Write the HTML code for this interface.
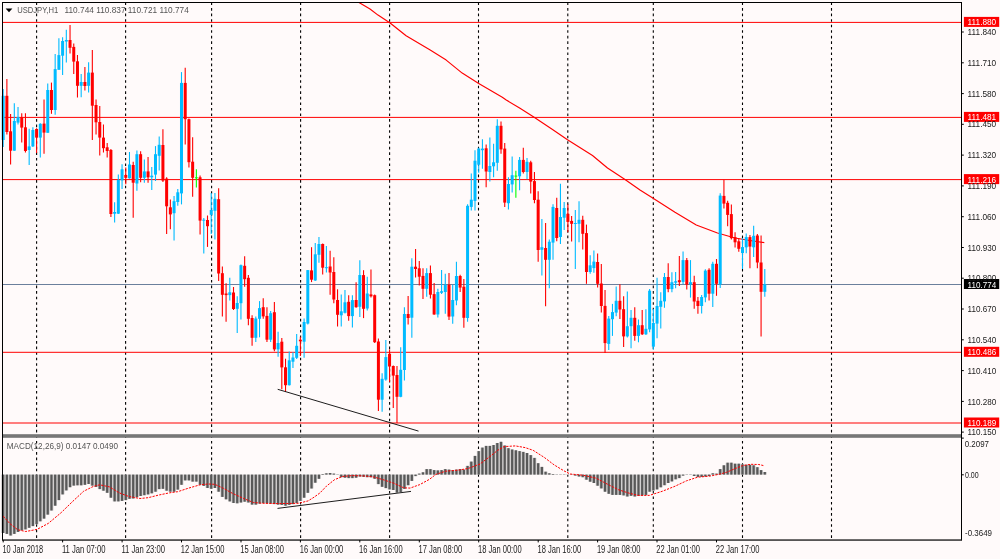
<!DOCTYPE html><html><head><meta charset="utf-8"><style>html,body{margin:0;padding:0;background:#fffafa}</style></head><body><svg width="1000" height="559" viewBox="0 0 1000 559" style="display:block;font-family:'Liberation Sans',sans-serif">
<rect width="1000" height="559" fill="#fffafa"/>
<line x1="36.6" y1="2.5" x2="36.6" y2="539.5" stroke="#000" stroke-width="1.1" stroke-dasharray="2.6 2.95"/>
<line x1="125.6" y1="2.5" x2="125.6" y2="539.5" stroke="#000" stroke-width="1.1" stroke-dasharray="2.6 2.95"/>
<line x1="211.6" y1="2.5" x2="211.6" y2="539.5" stroke="#000" stroke-width="1.1" stroke-dasharray="2.6 2.95"/>
<line x1="300.6" y1="2.5" x2="300.6" y2="539.5" stroke="#000" stroke-width="1.1" stroke-dasharray="2.6 2.95"/>
<line x1="389.6" y1="2.5" x2="389.6" y2="539.5" stroke="#000" stroke-width="1.1" stroke-dasharray="2.6 2.95"/>
<line x1="478.5" y1="2.5" x2="478.5" y2="539.5" stroke="#000" stroke-width="1.1" stroke-dasharray="2.6 2.95"/>
<line x1="567.8" y1="2.5" x2="567.8" y2="539.5" stroke="#000" stroke-width="1.1" stroke-dasharray="2.6 2.95"/>
<line x1="653.3" y1="2.5" x2="653.3" y2="539.5" stroke="#000" stroke-width="1.1" stroke-dasharray="2.6 2.95"/>
<line x1="742.5" y1="2.5" x2="742.5" y2="539.5" stroke="#000" stroke-width="1.1" stroke-dasharray="2.6 2.95"/>
<line x1="831.5" y1="2.5" x2="831.5" y2="539.5" stroke="#000" stroke-width="1.1" stroke-dasharray="2.6 2.95"/>
<line x1="2.5" y1="22.4" x2="961" y2="22.4" stroke="#ff0000" stroke-width="1"/>
<line x1="2.5" y1="117.4" x2="961" y2="117.4" stroke="#ff0000" stroke-width="1"/>
<line x1="2.5" y1="179.6" x2="961" y2="179.6" stroke="#ff0000" stroke-width="1"/>
<line x1="2.5" y1="352.3" x2="961" y2="352.3" stroke="#ff0000" stroke-width="1"/>
<line x1="2.5" y1="423.0" x2="961" y2="423.0" stroke="#ff0000" stroke-width="1"/>
<line x1="2.5" y1="284.5" x2="961" y2="284.5" stroke="#6b7f9c" stroke-width="1"/>
<g fill="#c6c4c4"><rect x="1.30" y="474.6" width="3.72" height="58.4"/><rect x="5.02" y="474.6" width="3.72" height="59.3"/><rect x="8.73" y="474.6" width="3.72" height="60.9"/><rect x="12.45" y="474.6" width="3.72" height="59.3"/><rect x="16.16" y="474.6" width="3.72" height="57.3"/><rect x="19.88" y="474.6" width="3.72" height="55.7"/><rect x="23.59" y="474.6" width="3.72" height="54.8"/><rect x="27.31" y="474.6" width="3.72" height="53.2"/><rect x="31.02" y="474.6" width="3.72" height="51.5"/><rect x="34.74" y="474.6" width="3.72" height="49.6"/><rect x="38.46" y="474.6" width="3.72" height="46.7"/><rect x="42.17" y="474.6" width="3.72" height="44.0"/><rect x="45.89" y="474.6" width="3.72" height="40.0"/><rect x="49.60" y="474.6" width="3.72" height="35.9"/><rect x="53.32" y="474.6" width="3.72" height="31.1"/><rect x="57.03" y="474.6" width="3.72" height="25.5"/><rect x="60.75" y="474.6" width="3.72" height="19.8"/><rect x="64.46" y="474.6" width="3.72" height="15.8"/><rect x="68.18" y="474.6" width="3.72" height="12.6"/><rect x="71.89" y="474.6" width="3.72" height="11.0"/><rect x="75.61" y="474.6" width="3.72" height="10.7"/><rect x="79.32" y="474.6" width="3.72" height="10.7"/><rect x="83.04" y="474.6" width="3.72" height="10.2"/><rect x="86.75" y="474.6" width="3.72" height="9.4"/><rect x="90.47" y="474.6" width="3.72" height="11.0"/><rect x="94.18" y="474.6" width="3.72" height="12.3"/><rect x="97.90" y="474.6" width="3.72" height="14.5"/><rect x="101.62" y="474.6" width="3.72" height="16.1"/><rect x="105.33" y="474.6" width="3.72" height="18.2"/><rect x="109.05" y="474.6" width="3.72" height="23.1"/><rect x="112.76" y="474.6" width="3.72" height="26.8"/><rect x="116.48" y="474.6" width="3.72" height="26.8"/><rect x="120.19" y="474.6" width="3.72" height="26.3"/><rect x="123.91" y="474.6" width="3.72" height="25.5"/><rect x="127.62" y="474.6" width="3.72" height="24.2"/><rect x="131.34" y="474.6" width="3.72" height="23.9"/><rect x="135.05" y="474.6" width="3.72" height="22.6"/><rect x="138.77" y="474.6" width="3.72" height="21.4"/><rect x="142.48" y="474.6" width="3.72" height="20.6"/><rect x="146.20" y="474.6" width="3.72" height="19.8"/><rect x="149.91" y="474.6" width="3.72" height="18.7"/><rect x="153.63" y="474.6" width="3.72" height="17.1"/><rect x="157.34" y="474.6" width="3.72" height="14.5"/><rect x="161.06" y="474.6" width="3.72" height="14.2"/><rect x="164.78" y="474.6" width="3.72" height="16.1"/><rect x="168.49" y="474.6" width="3.72" height="17.1"/><rect x="172.21" y="474.6" width="3.72" height="17.1"/><rect x="175.92" y="474.6" width="3.72" height="15.0"/><rect x="179.64" y="474.6" width="3.72" height="10.2"/><rect x="183.35" y="474.6" width="3.72" height="5.8"/><rect x="187.07" y="474.6" width="3.72" height="5.8"/><rect x="190.78" y="474.6" width="3.72" height="7.0"/><rect x="194.50" y="474.6" width="3.72" height="7.0"/><rect x="198.21" y="474.6" width="3.72" height="10.2"/><rect x="201.93" y="474.6" width="3.72" height="11.3"/><rect x="205.64" y="474.6" width="3.72" height="13.4"/><rect x="209.36" y="474.6" width="3.72" height="14.2"/><rect x="213.07" y="474.6" width="3.72" height="13.4"/><rect x="216.79" y="474.6" width="3.72" height="17.1"/><rect x="220.51" y="474.6" width="3.72" height="22.3"/><rect x="224.22" y="474.6" width="3.72" height="24.7"/><rect x="227.94" y="474.6" width="3.72" height="26.8"/><rect x="231.65" y="474.6" width="3.72" height="28.4"/><rect x="235.37" y="474.6" width="3.72" height="28.7"/><rect x="239.08" y="474.6" width="3.72" height="27.9"/><rect x="242.80" y="474.6" width="3.72" height="27.1"/><rect x="246.51" y="474.6" width="3.72" height="27.9"/><rect x="250.23" y="474.6" width="3.72" height="30.0"/><rect x="253.94" y="474.6" width="3.72" height="30.0"/><rect x="257.66" y="474.6" width="3.72" height="29.0"/><rect x="261.37" y="474.6" width="3.72" height="28.4"/><rect x="265.09" y="474.6" width="3.72" height="28.7"/><rect x="268.80" y="474.6" width="3.72" height="29.0"/><rect x="272.52" y="474.6" width="3.72" height="29.5"/><rect x="276.23" y="474.6" width="3.72" height="30.0"/><rect x="279.95" y="474.6" width="3.72" height="30.3"/><rect x="283.67" y="474.6" width="3.72" height="31.1"/><rect x="287.38" y="474.6" width="3.72" height="30.3"/><rect x="291.10" y="474.6" width="3.72" height="29.5"/><rect x="294.81" y="474.6" width="3.72" height="28.4"/><rect x="298.53" y="474.6" width="3.72" height="26.3"/><rect x="302.24" y="474.6" width="3.72" height="23.1"/><rect x="305.96" y="474.6" width="3.72" height="18.2"/><rect x="309.67" y="474.6" width="3.72" height="13.9"/><rect x="313.39" y="474.6" width="3.72" height="8.1"/><rect x="317.10" y="474.6" width="3.72" height="4.2"/><rect x="320.82" y="474.0" width="3.72" height="0.6"/><rect x="324.53" y="473.3" width="3.72" height="1.3"/><rect x="328.25" y="473.0" width="3.72" height="1.6"/><rect x="331.96" y="473.6" width="3.72" height="1.0"/><rect x="336.24" y="474.0" width="2.6" height="1"/><rect x="339.39" y="474.6" width="3.72" height="2.6"/><rect x="343.11" y="474.6" width="3.72" height="3.1"/><rect x="346.83" y="474.6" width="3.72" height="3.5"/><rect x="350.54" y="474.6" width="3.72" height="3.5"/><rect x="354.26" y="474.6" width="3.72" height="3.1"/><rect x="357.97" y="474.6" width="3.72" height="1.9"/><rect x="361.69" y="474.6" width="3.72" height="2.3"/><rect x="365.40" y="474.6" width="3.72" height="2.6"/><rect x="369.12" y="474.6" width="3.72" height="2.6"/><rect x="372.83" y="474.6" width="3.72" height="4.2"/><rect x="376.55" y="474.6" width="3.72" height="9.5"/><rect x="380.26" y="474.6" width="3.72" height="12.2"/><rect x="383.98" y="474.6" width="3.72" height="13.5"/><rect x="387.69" y="474.6" width="3.72" height="14.8"/><rect x="391.41" y="474.6" width="3.72" height="15.4"/><rect x="395.12" y="474.6" width="3.72" height="18.0"/><rect x="398.84" y="474.6" width="3.72" height="17.5"/><rect x="402.55" y="474.6" width="3.72" height="14.3"/><rect x="406.27" y="474.6" width="3.72" height="10.6"/><rect x="409.99" y="474.6" width="3.72" height="6.3"/><rect x="413.70" y="474.6" width="3.72" height="1.5"/><rect x="417.42" y="473.6" width="3.72" height="1.0"/><rect x="421.13" y="472.3" width="3.72" height="2.3"/><rect x="424.85" y="469.1" width="3.72" height="5.5"/><rect x="428.56" y="469.1" width="3.72" height="5.5"/><rect x="432.28" y="470.1" width="3.72" height="4.5"/><rect x="435.99" y="470.4" width="3.72" height="4.2"/><rect x="439.71" y="470.1" width="3.72" height="4.5"/><rect x="443.42" y="469.1" width="3.72" height="5.5"/><rect x="447.14" y="469.6" width="3.72" height="5.0"/><rect x="450.85" y="470.1" width="3.72" height="4.5"/><rect x="454.57" y="469.6" width="3.72" height="5.0"/><rect x="458.28" y="469.1" width="3.72" height="5.5"/><rect x="462.00" y="469.6" width="3.72" height="5.0"/><rect x="465.71" y="465.9" width="3.72" height="8.7"/><rect x="469.43" y="461.6" width="3.72" height="13.0"/><rect x="473.15" y="455.9" width="3.72" height="18.7"/><rect x="476.86" y="451.1" width="3.72" height="23.5"/><rect x="480.58" y="447.6" width="3.72" height="27.0"/><rect x="484.29" y="445.9" width="3.72" height="28.7"/><rect x="488.01" y="445.9" width="3.72" height="28.7"/><rect x="491.72" y="445.0" width="3.72" height="29.6"/><rect x="495.44" y="443.0" width="3.72" height="31.6"/><rect x="499.15" y="441.8" width="3.72" height="32.8"/><rect x="502.87" y="445.5" width="3.72" height="29.1"/><rect x="506.58" y="448.2" width="3.72" height="26.4"/><rect x="510.30" y="449.5" width="3.72" height="25.1"/><rect x="514.01" y="450.3" width="3.72" height="24.3"/><rect x="517.73" y="451.1" width="3.72" height="23.5"/><rect x="521.44" y="451.9" width="3.72" height="22.7"/><rect x="525.16" y="453.0" width="3.72" height="21.6"/><rect x="528.87" y="455.1" width="3.72" height="19.5"/><rect x="532.59" y="457.9" width="3.72" height="16.7"/><rect x="536.31" y="463.2" width="3.72" height="11.4"/><rect x="540.02" y="466.9" width="3.72" height="7.7"/><rect x="543.74" y="471.7" width="3.72" height="2.9"/><rect x="547.45" y="473.3" width="3.72" height="1.3"/><rect x="551.17" y="474.0" width="3.72" height="0.6"/><rect x="555.44" y="474.0" width="2.6" height="1"/><rect x="559.15" y="474.0" width="2.6" height="1"/><rect x="562.87" y="474.0" width="2.6" height="1"/><rect x="566.59" y="474.0" width="2.6" height="1"/><rect x="570.30" y="474.0" width="2.6" height="1"/><rect x="573.46" y="474.6" width="3.72" height="1.0"/><rect x="577.17" y="474.6" width="3.72" height="1.9"/><rect x="580.89" y="474.6" width="3.72" height="2.6"/><rect x="584.60" y="474.6" width="3.72" height="5.1"/><rect x="588.32" y="474.6" width="3.72" height="7.1"/><rect x="592.04" y="474.6" width="3.72" height="8.4"/><rect x="595.75" y="474.6" width="3.72" height="11.1"/><rect x="599.47" y="474.6" width="3.72" height="13.8"/><rect x="603.18" y="474.6" width="3.72" height="17.1"/><rect x="606.90" y="474.6" width="3.72" height="19.2"/><rect x="610.61" y="474.6" width="3.72" height="20.3"/><rect x="614.33" y="474.6" width="3.72" height="20.3"/><rect x="618.04" y="474.6" width="3.72" height="20.3"/><rect x="621.76" y="474.6" width="3.72" height="20.8"/><rect x="625.47" y="474.6" width="3.72" height="21.9"/><rect x="629.19" y="474.6" width="3.72" height="21.2"/><rect x="632.90" y="474.6" width="3.72" height="21.9"/><rect x="636.62" y="474.6" width="3.72" height="21.2"/><rect x="640.33" y="474.6" width="3.72" height="20.8"/><rect x="644.05" y="474.6" width="3.72" height="20.3"/><rect x="647.76" y="474.6" width="3.72" height="17.1"/><rect x="651.48" y="474.6" width="3.72" height="15.9"/><rect x="655.20" y="474.6" width="3.72" height="14.8"/><rect x="658.91" y="474.6" width="3.72" height="12.7"/><rect x="662.63" y="474.6" width="3.72" height="10.6"/><rect x="666.34" y="474.6" width="3.72" height="8.4"/><rect x="670.06" y="474.6" width="3.72" height="6.8"/><rect x="673.77" y="474.6" width="3.72" height="4.7"/><rect x="677.49" y="474.6" width="3.72" height="3.5"/><rect x="681.20" y="474.6" width="3.72" height="1.0"/><rect x="685.48" y="474.0" width="2.6" height="1"/><rect x="689.19" y="474.0" width="2.6" height="1"/><rect x="692.35" y="474.6" width="3.72" height="1.4"/><rect x="696.06" y="474.6" width="3.72" height="2.3"/><rect x="699.78" y="474.6" width="3.72" height="2.3"/><rect x="703.49" y="474.6" width="3.72" height="1.9"/><rect x="707.21" y="474.6" width="3.72" height="1.4"/><rect x="710.92" y="473.3" width="3.72" height="1.3"/><rect x="714.64" y="473.6" width="3.72" height="1.0"/><rect x="718.36" y="469.1" width="3.72" height="5.5"/><rect x="722.07" y="465.3" width="3.72" height="9.3"/><rect x="725.79" y="462.7" width="3.72" height="11.9"/><rect x="729.50" y="462.7" width="3.72" height="11.9"/><rect x="733.22" y="463.7" width="3.72" height="10.9"/><rect x="736.93" y="463.7" width="3.72" height="10.9"/><rect x="740.65" y="464.3" width="3.72" height="10.3"/><rect x="744.36" y="464.8" width="3.72" height="9.8"/><rect x="748.08" y="464.8" width="3.72" height="9.8"/><rect x="751.79" y="465.3" width="3.72" height="9.3"/><rect x="755.51" y="467.2" width="3.72" height="7.4"/><rect x="759.22" y="470.1" width="3.72" height="4.5"/><rect x="762.94" y="472.0" width="3.72" height="2.6"/></g>
<g fill="#585858"><rect x="2.06" y="474.6" width="2.2" height="58.4"/><rect x="5.78" y="474.6" width="2.2" height="59.3"/><rect x="9.49" y="474.6" width="2.2" height="60.9"/><rect x="13.21" y="474.6" width="2.2" height="59.3"/><rect x="16.92" y="474.6" width="2.2" height="57.3"/><rect x="20.64" y="474.6" width="2.2" height="55.7"/><rect x="24.35" y="474.6" width="2.2" height="54.8"/><rect x="28.07" y="474.6" width="2.2" height="53.2"/><rect x="31.78" y="474.6" width="2.2" height="51.5"/><rect x="35.50" y="474.6" width="2.2" height="49.6"/><rect x="39.21" y="474.6" width="2.2" height="46.7"/><rect x="42.93" y="474.6" width="2.2" height="44.0"/><rect x="46.64" y="474.6" width="2.2" height="40.0"/><rect x="50.36" y="474.6" width="2.2" height="35.9"/><rect x="54.07" y="474.6" width="2.2" height="31.1"/><rect x="57.79" y="474.6" width="2.2" height="25.5"/><rect x="61.50" y="474.6" width="2.2" height="19.8"/><rect x="65.22" y="474.6" width="2.2" height="15.8"/><rect x="68.94" y="474.6" width="2.2" height="12.6"/><rect x="72.65" y="474.6" width="2.2" height="11.0"/><rect x="76.37" y="474.6" width="2.2" height="10.7"/><rect x="80.08" y="474.6" width="2.2" height="10.7"/><rect x="83.80" y="474.6" width="2.2" height="10.2"/><rect x="87.51" y="474.6" width="2.2" height="9.4"/><rect x="91.23" y="474.6" width="2.2" height="11.0"/><rect x="94.94" y="474.6" width="2.2" height="12.3"/><rect x="98.66" y="474.6" width="2.2" height="14.5"/><rect x="102.37" y="474.6" width="2.2" height="16.1"/><rect x="106.09" y="474.6" width="2.2" height="18.2"/><rect x="109.80" y="474.6" width="2.2" height="23.1"/><rect x="113.52" y="474.6" width="2.2" height="26.8"/><rect x="117.23" y="474.6" width="2.2" height="26.8"/><rect x="120.95" y="474.6" width="2.2" height="26.3"/><rect x="124.66" y="474.6" width="2.2" height="25.5"/><rect x="128.38" y="474.6" width="2.2" height="24.2"/><rect x="132.10" y="474.6" width="2.2" height="23.9"/><rect x="135.81" y="474.6" width="2.2" height="22.6"/><rect x="139.53" y="474.6" width="2.2" height="21.4"/><rect x="143.24" y="474.6" width="2.2" height="20.6"/><rect x="146.96" y="474.6" width="2.2" height="19.8"/><rect x="150.67" y="474.6" width="2.2" height="18.7"/><rect x="154.39" y="474.6" width="2.2" height="17.1"/><rect x="158.10" y="474.6" width="2.2" height="14.5"/><rect x="161.82" y="474.6" width="2.2" height="14.2"/><rect x="165.53" y="474.6" width="2.2" height="16.1"/><rect x="169.25" y="474.6" width="2.2" height="17.1"/><rect x="172.96" y="474.6" width="2.2" height="17.1"/><rect x="176.68" y="474.6" width="2.2" height="15.0"/><rect x="180.39" y="474.6" width="2.2" height="10.2"/><rect x="184.11" y="474.6" width="2.2" height="5.8"/><rect x="187.83" y="474.6" width="2.2" height="5.8"/><rect x="191.54" y="474.6" width="2.2" height="7.0"/><rect x="195.26" y="474.6" width="2.2" height="7.0"/><rect x="198.97" y="474.6" width="2.2" height="10.2"/><rect x="202.69" y="474.6" width="2.2" height="11.3"/><rect x="206.40" y="474.6" width="2.2" height="13.4"/><rect x="210.12" y="474.6" width="2.2" height="14.2"/><rect x="213.83" y="474.6" width="2.2" height="13.4"/><rect x="217.55" y="474.6" width="2.2" height="17.1"/><rect x="221.26" y="474.6" width="2.2" height="22.3"/><rect x="224.98" y="474.6" width="2.2" height="24.7"/><rect x="228.69" y="474.6" width="2.2" height="26.8"/><rect x="232.41" y="474.6" width="2.2" height="28.4"/><rect x="236.12" y="474.6" width="2.2" height="28.7"/><rect x="239.84" y="474.6" width="2.2" height="27.9"/><rect x="243.55" y="474.6" width="2.2" height="27.1"/><rect x="247.27" y="474.6" width="2.2" height="27.9"/><rect x="250.99" y="474.6" width="2.2" height="30.0"/><rect x="254.70" y="474.6" width="2.2" height="30.0"/><rect x="258.42" y="474.6" width="2.2" height="29.0"/><rect x="262.13" y="474.6" width="2.2" height="28.4"/><rect x="265.85" y="474.6" width="2.2" height="28.7"/><rect x="269.56" y="474.6" width="2.2" height="29.0"/><rect x="273.28" y="474.6" width="2.2" height="29.5"/><rect x="276.99" y="474.6" width="2.2" height="30.0"/><rect x="280.71" y="474.6" width="2.2" height="30.3"/><rect x="284.42" y="474.6" width="2.2" height="31.1"/><rect x="288.14" y="474.6" width="2.2" height="30.3"/><rect x="291.85" y="474.6" width="2.2" height="29.5"/><rect x="295.57" y="474.6" width="2.2" height="28.4"/><rect x="299.28" y="474.6" width="2.2" height="26.3"/><rect x="303.00" y="474.6" width="2.2" height="23.1"/><rect x="306.71" y="474.6" width="2.2" height="18.2"/><rect x="310.43" y="474.6" width="2.2" height="13.9"/><rect x="314.15" y="474.6" width="2.2" height="8.1"/><rect x="317.86" y="474.6" width="2.2" height="4.2"/><rect x="321.58" y="474.0" width="2.2" height="0.6"/><rect x="325.29" y="473.3" width="2.2" height="1.3"/><rect x="329.01" y="473.0" width="2.2" height="1.6"/><rect x="332.72" y="473.6" width="2.2" height="1.0"/><rect x="340.15" y="474.6" width="2.2" height="2.6"/><rect x="343.87" y="474.6" width="2.2" height="3.1"/><rect x="347.58" y="474.6" width="2.2" height="3.5"/><rect x="351.30" y="474.6" width="2.2" height="3.5"/><rect x="355.01" y="474.6" width="2.2" height="3.1"/><rect x="358.73" y="474.6" width="2.2" height="1.9"/><rect x="362.44" y="474.6" width="2.2" height="2.3"/><rect x="366.16" y="474.6" width="2.2" height="2.6"/><rect x="369.87" y="474.6" width="2.2" height="2.6"/><rect x="373.59" y="474.6" width="2.2" height="4.2"/><rect x="377.31" y="474.6" width="2.2" height="9.5"/><rect x="381.02" y="474.6" width="2.2" height="12.2"/><rect x="384.74" y="474.6" width="2.2" height="13.5"/><rect x="388.45" y="474.6" width="2.2" height="14.8"/><rect x="392.17" y="474.6" width="2.2" height="15.4"/><rect x="395.88" y="474.6" width="2.2" height="18.0"/><rect x="399.60" y="474.6" width="2.2" height="17.5"/><rect x="403.31" y="474.6" width="2.2" height="14.3"/><rect x="407.03" y="474.6" width="2.2" height="10.6"/><rect x="410.74" y="474.6" width="2.2" height="6.3"/><rect x="414.46" y="474.6" width="2.2" height="1.5"/><rect x="418.17" y="473.6" width="2.2" height="1.0"/><rect x="421.89" y="472.3" width="2.2" height="2.3"/><rect x="425.60" y="469.1" width="2.2" height="5.5"/><rect x="429.32" y="469.1" width="2.2" height="5.5"/><rect x="433.03" y="470.1" width="2.2" height="4.5"/><rect x="436.75" y="470.4" width="2.2" height="4.2"/><rect x="440.47" y="470.1" width="2.2" height="4.5"/><rect x="444.18" y="469.1" width="2.2" height="5.5"/><rect x="447.90" y="469.6" width="2.2" height="5.0"/><rect x="451.61" y="470.1" width="2.2" height="4.5"/><rect x="455.33" y="469.6" width="2.2" height="5.0"/><rect x="459.04" y="469.1" width="2.2" height="5.5"/><rect x="462.76" y="469.6" width="2.2" height="5.0"/><rect x="466.47" y="465.9" width="2.2" height="8.7"/><rect x="470.19" y="461.6" width="2.2" height="13.0"/><rect x="473.90" y="455.9" width="2.2" height="18.7"/><rect x="477.62" y="451.1" width="2.2" height="23.5"/><rect x="481.33" y="447.6" width="2.2" height="27.0"/><rect x="485.05" y="445.9" width="2.2" height="28.7"/><rect x="488.76" y="445.9" width="2.2" height="28.7"/><rect x="492.48" y="445.0" width="2.2" height="29.6"/><rect x="496.19" y="443.0" width="2.2" height="31.6"/><rect x="499.91" y="441.8" width="2.2" height="32.8"/><rect x="503.63" y="445.5" width="2.2" height="29.1"/><rect x="507.34" y="448.2" width="2.2" height="26.4"/><rect x="511.06" y="449.5" width="2.2" height="25.1"/><rect x="514.77" y="450.3" width="2.2" height="24.3"/><rect x="518.49" y="451.1" width="2.2" height="23.5"/><rect x="522.20" y="451.9" width="2.2" height="22.7"/><rect x="525.92" y="453.0" width="2.2" height="21.6"/><rect x="529.63" y="455.1" width="2.2" height="19.5"/><rect x="533.35" y="457.9" width="2.2" height="16.7"/><rect x="537.06" y="463.2" width="2.2" height="11.4"/><rect x="540.78" y="466.9" width="2.2" height="7.7"/><rect x="544.49" y="471.7" width="2.2" height="2.9"/><rect x="548.21" y="473.3" width="2.2" height="1.3"/><rect x="551.92" y="474.0" width="2.2" height="0.6"/><rect x="574.22" y="474.6" width="2.2" height="1.0"/><rect x="577.93" y="474.6" width="2.2" height="1.9"/><rect x="581.65" y="474.6" width="2.2" height="2.6"/><rect x="585.36" y="474.6" width="2.2" height="5.1"/><rect x="589.08" y="474.6" width="2.2" height="7.1"/><rect x="592.79" y="474.6" width="2.2" height="8.4"/><rect x="596.51" y="474.6" width="2.2" height="11.1"/><rect x="600.22" y="474.6" width="2.2" height="13.8"/><rect x="603.94" y="474.6" width="2.2" height="17.1"/><rect x="607.65" y="474.6" width="2.2" height="19.2"/><rect x="611.37" y="474.6" width="2.2" height="20.3"/><rect x="615.08" y="474.6" width="2.2" height="20.3"/><rect x="618.80" y="474.6" width="2.2" height="20.3"/><rect x="622.52" y="474.6" width="2.2" height="20.8"/><rect x="626.23" y="474.6" width="2.2" height="21.9"/><rect x="629.95" y="474.6" width="2.2" height="21.2"/><rect x="633.66" y="474.6" width="2.2" height="21.9"/><rect x="637.38" y="474.6" width="2.2" height="21.2"/><rect x="641.09" y="474.6" width="2.2" height="20.8"/><rect x="644.81" y="474.6" width="2.2" height="20.3"/><rect x="648.52" y="474.6" width="2.2" height="17.1"/><rect x="652.24" y="474.6" width="2.2" height="15.9"/><rect x="655.95" y="474.6" width="2.2" height="14.8"/><rect x="659.67" y="474.6" width="2.2" height="12.7"/><rect x="663.38" y="474.6" width="2.2" height="10.6"/><rect x="667.10" y="474.6" width="2.2" height="8.4"/><rect x="670.81" y="474.6" width="2.2" height="6.8"/><rect x="674.53" y="474.6" width="2.2" height="4.7"/><rect x="678.24" y="474.6" width="2.2" height="3.5"/><rect x="681.96" y="474.6" width="2.2" height="1.0"/><rect x="693.11" y="474.6" width="2.2" height="1.4"/><rect x="696.82" y="474.6" width="2.2" height="2.3"/><rect x="700.54" y="474.6" width="2.2" height="2.3"/><rect x="704.25" y="474.6" width="2.2" height="1.9"/><rect x="707.97" y="474.6" width="2.2" height="1.4"/><rect x="711.68" y="473.3" width="2.2" height="1.3"/><rect x="715.40" y="473.6" width="2.2" height="1.0"/><rect x="719.11" y="469.1" width="2.2" height="5.5"/><rect x="722.83" y="465.3" width="2.2" height="9.3"/><rect x="726.54" y="462.7" width="2.2" height="11.9"/><rect x="730.26" y="462.7" width="2.2" height="11.9"/><rect x="733.97" y="463.7" width="2.2" height="10.9"/><rect x="737.69" y="463.7" width="2.2" height="10.9"/><rect x="741.40" y="464.3" width="2.2" height="10.3"/><rect x="745.12" y="464.8" width="2.2" height="9.8"/><rect x="748.84" y="464.8" width="2.2" height="9.8"/><rect x="752.55" y="465.3" width="2.2" height="9.3"/><rect x="756.27" y="467.2" width="2.2" height="7.4"/><rect x="759.98" y="470.1" width="2.2" height="4.5"/><rect x="763.70" y="472.0" width="2.2" height="2.6"/></g>
<polyline fill="none" stroke="#ff0000" stroke-width="1" stroke-dasharray="2.2 1.2" points="3.2,516.2 9.7,523.4 17.7,529.8 25.8,531.5 37,529.4 48.3,523.4 61.2,512.6 72.4,501.7 83.7,491.2 93.4,486.4 99.8,484.8 109.5,486.9 119.1,492.8 128.8,496.5 140,498.5 148.1,497.7 159.4,494.9 169.7,492.8 177.7,491.7 189,488 200.2,484.8 208.3,484 214.7,484.3 222.8,488 232.4,493.3 243.7,498.5 253.4,502.5 263,503.3 279.1,503.6 298.4,503.3 308.1,500.9 314.5,496.9 320,492.9 326.4,486.2 334.5,479.7 342.5,476.5 352.2,475.6 365.1,476 374.7,477.2 384.4,480.1 394,483.3 403.7,487.8 410.1,488.1 419.8,484.6 429.5,479.3 435.9,474.4 445.6,471.2 458.4,470.1 468.1,468.5 480,464 489.7,456.7 497.7,450.3 504.1,446.6 515.4,445.9 525.1,447.6 533.1,450.3 544.4,457.5 554,464.8 563.7,470.7 570.1,474 583,475.2 595.9,478.1 608.8,484.9 618.4,489.7 628.1,492.9 638,495.4 649.3,495.4 662.2,491.3 675.1,486.2 686.3,480.9 697.6,477.2 710.5,476 718.5,474.4 726.6,472.3 734.6,468.8 742.7,465.6 750.7,464.3 758.8,464.5 763.6,465.6"/>
<polyline fill="none" stroke="#ff0000" stroke-width="1.15" stroke-linejoin="round" points="359,2.4 370,9 378,15.1 390.1,23 406.1,35.7 430.2,50.1 446.2,60.1 462.2,73.1 478.3,83.2 502.3,97.2 506.25,100 520,108.3 533.75,117 552.5,129.5 567.5,139.7 592.5,155.5 607.5,168 625,179.5 640,190 653.5,198.5 675,212.3 696.25,225 717.5,233 735,238 750,240.5 764.3,242.6"/>
<g stroke-width="1.1"><line x1="3.16" y1="88.9" x2="3.16" y2="147.0" stroke="#00bbff"/><line x1="6.88" y1="78.9" x2="6.88" y2="134.5" stroke="#ff0000"/><line x1="10.59" y1="114.0" x2="10.59" y2="164.4" stroke="#ff0000"/><line x1="14.31" y1="103.2" x2="14.31" y2="150.7" stroke="#00bbff"/><line x1="18.02" y1="107.0" x2="18.02" y2="124.5" stroke="#00bbff"/><line x1="21.74" y1="113.2" x2="21.74" y2="142.6" stroke="#ff0000"/><line x1="25.45" y1="113.2" x2="25.45" y2="152.5" stroke="#ff0000"/><line x1="29.17" y1="128.8" x2="29.17" y2="165.0" stroke="#00bbff"/><line x1="32.88" y1="127.3" x2="32.88" y2="147.0" stroke="#00bbff"/><line x1="36.60" y1="128.2" x2="36.60" y2="153.1" stroke="#ff0000"/><line x1="40.31" y1="123.2" x2="40.31" y2="157.5" stroke="#00bbff"/><line x1="44.03" y1="99.4" x2="44.03" y2="153.8" stroke="#ff0000"/><line x1="47.74" y1="83.6" x2="47.74" y2="132.8" stroke="#00bbff"/><line x1="51.46" y1="82.6" x2="51.46" y2="113.8" stroke="#ff0000"/><line x1="55.17" y1="54.1" x2="55.17" y2="114.8" stroke="#00bbff"/><line x1="58.89" y1="38.2" x2="58.89" y2="69.8" stroke="#00bbff"/><line x1="62.60" y1="37.3" x2="62.60" y2="74.9" stroke="#00bbff"/><line x1="66.32" y1="29.8" x2="66.32" y2="62.6" stroke="#00bbff"/><line x1="70.04" y1="25.0" x2="70.04" y2="53.6" stroke="#ff0000"/><line x1="73.75" y1="43.5" x2="73.75" y2="73.9" stroke="#ff0000"/><line x1="77.47" y1="55.0" x2="77.47" y2="97.5" stroke="#ff0000"/><line x1="81.18" y1="74.1" x2="81.18" y2="97.3" stroke="#00bbff"/><line x1="84.90" y1="67.0" x2="84.90" y2="90.6" stroke="#ff0000"/><line x1="88.61" y1="62.3" x2="88.61" y2="92.5" stroke="#00bbff"/><line x1="92.33" y1="50.0" x2="92.33" y2="139.9" stroke="#ff0000"/><line x1="96.04" y1="99.4" x2="96.04" y2="134.5" stroke="#ff0000"/><line x1="99.76" y1="106.0" x2="99.76" y2="155.6" stroke="#ff0000"/><line x1="103.47" y1="124.5" x2="103.47" y2="152.5" stroke="#ff0000"/><line x1="107.19" y1="142.9" x2="107.19" y2="157.5" stroke="#ff0000"/><line x1="110.90" y1="149.0" x2="110.90" y2="217.0" stroke="#ff0000"/><line x1="114.62" y1="202.3" x2="114.62" y2="222.5" stroke="#00bbff"/><line x1="118.33" y1="174.5" x2="118.33" y2="214.0" stroke="#00bbff"/><line x1="122.05" y1="164.2" x2="122.05" y2="189.0" stroke="#00bbff"/><line x1="125.76" y1="167.4" x2="125.76" y2="184.3" stroke="#ff0000"/><line x1="129.48" y1="152.0" x2="129.48" y2="178.6" stroke="#00bbff"/><line x1="133.20" y1="161.7" x2="133.20" y2="217.7" stroke="#ff0000"/><line x1="136.91" y1="150.5" x2="136.91" y2="190.7" stroke="#00bbff"/><line x1="140.63" y1="151.3" x2="140.63" y2="182.2" stroke="#ff0000"/><line x1="144.34" y1="159.6" x2="144.34" y2="182.7" stroke="#00bbff"/><line x1="148.06" y1="156.9" x2="148.06" y2="182.7" stroke="#ff0000"/><line x1="151.77" y1="167.0" x2="151.77" y2="189.9" stroke="#00bbff"/><line x1="155.49" y1="146.1" x2="155.49" y2="181.0" stroke="#00bbff"/><line x1="159.20" y1="136.5" x2="159.20" y2="170.6" stroke="#00bbff"/><line x1="162.92" y1="129.2" x2="162.92" y2="181.9" stroke="#ff0000"/><line x1="166.63" y1="177.3" x2="166.63" y2="234.0" stroke="#ff0000"/><line x1="170.35" y1="199.6" x2="170.35" y2="229.2" stroke="#ff0000"/><line x1="174.06" y1="196.0" x2="174.06" y2="240.4" stroke="#00bbff"/><line x1="177.78" y1="189.1" x2="177.78" y2="205.7" stroke="#00bbff"/><line x1="181.49" y1="72.1" x2="181.49" y2="204.4" stroke="#00bbff"/><line x1="185.21" y1="67.7" x2="185.21" y2="144.5" stroke="#ff0000"/><line x1="188.93" y1="118.5" x2="188.93" y2="167.4" stroke="#ff0000"/><line x1="192.64" y1="137.3" x2="192.64" y2="196.7" stroke="#ff0000"/><line x1="196.36" y1="169.3" x2="196.36" y2="187.5" stroke="#00ff00"/><line x1="200.07" y1="175.4" x2="200.07" y2="234.6" stroke="#ff0000"/><line x1="203.79" y1="218.0" x2="203.79" y2="253.6" stroke="#00bbff"/><line x1="207.50" y1="215.5" x2="207.50" y2="246.9" stroke="#ff0000"/><line x1="211.22" y1="193.1" x2="211.22" y2="234.0" stroke="#00bbff"/><line x1="214.93" y1="193.1" x2="214.93" y2="239.5" stroke="#00bbff"/><line x1="218.65" y1="188.3" x2="218.65" y2="281.0" stroke="#ff0000"/><line x1="222.36" y1="266.5" x2="222.36" y2="316.4" stroke="#ff0000"/><line x1="226.08" y1="283.3" x2="226.08" y2="321.7" stroke="#ff0000"/><line x1="229.79" y1="277.8" x2="229.79" y2="300.5" stroke="#00bbff"/><line x1="233.51" y1="287.0" x2="233.51" y2="310.0" stroke="#ff0000"/><line x1="237.22" y1="296.2" x2="237.22" y2="333.0" stroke="#00bbff"/><line x1="240.94" y1="264.6" x2="240.94" y2="319.6" stroke="#00bbff"/><line x1="244.65" y1="256.2" x2="244.65" y2="286.8" stroke="#ff0000"/><line x1="248.37" y1="274.9" x2="248.37" y2="325.2" stroke="#ff0000"/><line x1="252.09" y1="315.3" x2="252.09" y2="345.8" stroke="#ff0000"/><line x1="255.80" y1="316.4" x2="255.80" y2="342.1" stroke="#00bbff"/><line x1="259.52" y1="301.1" x2="259.52" y2="337.3" stroke="#00bbff"/><line x1="263.23" y1="298.2" x2="263.23" y2="318.8" stroke="#ff0000"/><line x1="266.95" y1="307.3" x2="266.95" y2="342.1" stroke="#ff0000"/><line x1="270.66" y1="311.1" x2="270.66" y2="342.1" stroke="#00bbff"/><line x1="274.38" y1="301.9" x2="274.38" y2="351.3" stroke="#ff0000"/><line x1="278.09" y1="331.7" x2="278.09" y2="356.8" stroke="#00bbff"/><line x1="281.81" y1="338.1" x2="281.81" y2="389.3" stroke="#ff0000"/><line x1="285.52" y1="358.7" x2="285.52" y2="392.0" stroke="#ff0000"/><line x1="289.24" y1="351.4" x2="289.24" y2="385.6" stroke="#00bbff"/><line x1="292.95" y1="352.3" x2="292.95" y2="368.1" stroke="#00bbff"/><line x1="296.67" y1="334.1" x2="296.67" y2="359.1" stroke="#00bbff"/><line x1="300.38" y1="336.8" x2="300.38" y2="355.9" stroke="#ff0000"/><line x1="304.10" y1="318.5" x2="304.10" y2="357.8" stroke="#00bbff"/><line x1="307.81" y1="270.1" x2="307.81" y2="324.4" stroke="#00bbff"/><line x1="311.53" y1="247.2" x2="311.53" y2="282.1" stroke="#ff0000"/><line x1="315.25" y1="243.0" x2="315.25" y2="281.0" stroke="#00bbff"/><line x1="318.96" y1="237.1" x2="318.96" y2="262.8" stroke="#00bbff"/><line x1="322.68" y1="243.5" x2="322.68" y2="274.6" stroke="#ff0000"/><line x1="326.39" y1="245.9" x2="326.39" y2="272.5" stroke="#00bbff"/><line x1="330.11" y1="250.8" x2="330.11" y2="294.7" stroke="#ff0000"/><line x1="333.82" y1="257.2" x2="333.82" y2="303.3" stroke="#ff0000"/><line x1="337.54" y1="289.3" x2="337.54" y2="326.5" stroke="#ff0000"/><line x1="341.25" y1="294.5" x2="341.25" y2="326.5" stroke="#00bbff"/><line x1="344.97" y1="290.0" x2="344.97" y2="313.5" stroke="#00bbff"/><line x1="348.68" y1="295.3" x2="348.68" y2="320.8" stroke="#ff0000"/><line x1="352.40" y1="295.3" x2="352.40" y2="327.5" stroke="#00bbff"/><line x1="356.11" y1="282.2" x2="356.11" y2="307.7" stroke="#ff0000"/><line x1="359.83" y1="260.2" x2="359.83" y2="317.0" stroke="#00bbff"/><line x1="363.54" y1="270.2" x2="363.54" y2="318.1" stroke="#ff0000"/><line x1="367.26" y1="276.8" x2="367.26" y2="310.5" stroke="#00bbff"/><line x1="370.97" y1="269.4" x2="370.97" y2="297.6" stroke="#ff0000"/><line x1="374.69" y1="294.5" x2="374.69" y2="343.1" stroke="#ff0000"/><line x1="378.41" y1="338.6" x2="378.41" y2="411.0" stroke="#ff0000"/><line x1="382.12" y1="373.2" x2="382.12" y2="411.8" stroke="#00bbff"/><line x1="385.84" y1="339.9" x2="385.84" y2="380.7" stroke="#00bbff"/><line x1="389.55" y1="349.5" x2="389.55" y2="381.7" stroke="#ff0000"/><line x1="393.27" y1="365.6" x2="393.27" y2="408.1" stroke="#ff0000"/><line x1="396.98" y1="366.0" x2="396.98" y2="423.1" stroke="#ff0000"/><line x1="400.70" y1="347.2" x2="400.70" y2="397.3" stroke="#00bbff"/><line x1="404.41" y1="307.2" x2="404.41" y2="380.5" stroke="#00bbff"/><line x1="408.13" y1="296.0" x2="408.13" y2="324.5" stroke="#ff0000"/><line x1="411.84" y1="258.2" x2="411.84" y2="337.8" stroke="#00bbff"/><line x1="415.56" y1="249.0" x2="415.56" y2="277.5" stroke="#ff0000"/><line x1="419.27" y1="260.9" x2="419.27" y2="285.5" stroke="#ff0000"/><line x1="422.99" y1="268.3" x2="422.99" y2="298.9" stroke="#ff0000"/><line x1="426.70" y1="268.3" x2="426.70" y2="296.8" stroke="#00bbff"/><line x1="430.42" y1="265.4" x2="430.42" y2="298.4" stroke="#ff0000"/><line x1="434.13" y1="283.1" x2="434.13" y2="314.8" stroke="#ff0000"/><line x1="437.85" y1="288.8" x2="437.85" y2="317.5" stroke="#00bbff"/><line x1="441.57" y1="269.9" x2="441.57" y2="294.1" stroke="#00bbff"/><line x1="445.28" y1="273.8" x2="445.28" y2="313.7" stroke="#00bbff"/><line x1="449.00" y1="273.1" x2="449.00" y2="320.1" stroke="#ff0000"/><line x1="452.71" y1="284.7" x2="452.71" y2="323.8" stroke="#00bbff"/><line x1="456.43" y1="261.8" x2="456.43" y2="305.3" stroke="#00bbff"/><line x1="460.14" y1="274.8" x2="460.14" y2="292.0" stroke="#ff0000"/><line x1="463.86" y1="279.1" x2="463.86" y2="327.7" stroke="#ff0000"/><line x1="467.57" y1="204.2" x2="467.57" y2="321.7" stroke="#00bbff"/><line x1="471.29" y1="173.6" x2="471.29" y2="210.6" stroke="#00bbff"/><line x1="475.00" y1="150.2" x2="475.00" y2="210.6" stroke="#00bbff"/><line x1="478.72" y1="147.8" x2="478.72" y2="172.8" stroke="#00bbff"/><line x1="482.43" y1="139.3" x2="482.43" y2="168.8" stroke="#00bbff"/><line x1="486.15" y1="144.6" x2="486.15" y2="187.3" stroke="#ff0000"/><line x1="489.86" y1="137.4" x2="489.86" y2="181.6" stroke="#00bbff"/><line x1="493.58" y1="143.8" x2="493.58" y2="177.3" stroke="#00bbff"/><line x1="497.29" y1="119.3" x2="497.29" y2="170.8" stroke="#00bbff"/><line x1="501.01" y1="121.6" x2="501.01" y2="153.8" stroke="#ff0000"/><line x1="504.73" y1="143.0" x2="504.73" y2="206.9" stroke="#ff0000"/><line x1="508.44" y1="177.3" x2="508.44" y2="209.6" stroke="#00bbff"/><line x1="512.16" y1="156.4" x2="512.16" y2="192.4" stroke="#00bbff"/><line x1="515.87" y1="170.8" x2="515.87" y2="197.7" stroke="#00ff00"/><line x1="519.59" y1="157.0" x2="519.59" y2="190.2" stroke="#00bbff"/><line x1="523.30" y1="147.8" x2="523.30" y2="173.6" stroke="#ff0000"/><line x1="527.02" y1="158.0" x2="527.02" y2="179.2" stroke="#00bbff"/><line x1="530.73" y1="160.7" x2="530.73" y2="193.6" stroke="#ff0000"/><line x1="534.45" y1="172.0" x2="534.45" y2="203.2" stroke="#ff0000"/><line x1="538.16" y1="191.3" x2="538.16" y2="261.7" stroke="#ff0000"/><line x1="541.88" y1="219.0" x2="541.88" y2="275.5" stroke="#00bbff"/><line x1="545.59" y1="223.0" x2="545.59" y2="306.3" stroke="#ff0000"/><line x1="549.31" y1="239.6" x2="549.31" y2="288.3" stroke="#00bbff"/><line x1="553.02" y1="204.2" x2="553.02" y2="259.8" stroke="#00bbff"/><line x1="556.74" y1="197.7" x2="556.74" y2="241.2" stroke="#ff0000"/><line x1="560.45" y1="183.7" x2="560.45" y2="243.9" stroke="#00bbff"/><line x1="564.17" y1="202.1" x2="564.17" y2="229.9" stroke="#00bbff"/><line x1="567.89" y1="204.2" x2="567.89" y2="232.2" stroke="#ff0000"/><line x1="571.60" y1="216.1" x2="571.60" y2="241.5" stroke="#ff0000"/><line x1="575.32" y1="210.1" x2="575.32" y2="269.1" stroke="#00bbff"/><line x1="579.03" y1="201.3" x2="579.03" y2="242.3" stroke="#00bbff"/><line x1="582.75" y1="215.8" x2="582.75" y2="249.6" stroke="#ff0000"/><line x1="586.46" y1="224.6" x2="586.46" y2="283.8" stroke="#ff0000"/><line x1="590.18" y1="255.2" x2="590.18" y2="273.7" stroke="#00bbff"/><line x1="593.89" y1="250.6" x2="593.89" y2="272.7" stroke="#00bbff"/><line x1="597.61" y1="253.6" x2="597.61" y2="287.5" stroke="#ff0000"/><line x1="601.32" y1="264.1" x2="601.32" y2="312.4" stroke="#ff0000"/><line x1="605.04" y1="289.9" x2="605.04" y2="353.1" stroke="#ff0000"/><line x1="608.75" y1="316.0" x2="608.75" y2="349.9" stroke="#00bbff"/><line x1="612.47" y1="303.9" x2="612.47" y2="335.9" stroke="#00bbff"/><line x1="616.18" y1="286.4" x2="616.18" y2="316.3" stroke="#00bbff"/><line x1="619.90" y1="284.3" x2="619.90" y2="319.0" stroke="#ff0000"/><line x1="623.62" y1="296.2" x2="623.62" y2="347.1" stroke="#ff0000"/><line x1="627.33" y1="291.5" x2="627.33" y2="337.5" stroke="#00bbff"/><line x1="631.05" y1="310.0" x2="631.05" y2="348.3" stroke="#00bbff"/><line x1="634.76" y1="307.3" x2="634.76" y2="340.7" stroke="#ff0000"/><line x1="638.48" y1="319.5" x2="638.48" y2="342.3" stroke="#00bbff"/><line x1="642.19" y1="310.0" x2="642.19" y2="335.0" stroke="#ff0000"/><line x1="645.91" y1="309.2" x2="645.91" y2="335.0" stroke="#00bbff"/><line x1="649.62" y1="289.1" x2="649.62" y2="332.2" stroke="#00bbff"/><line x1="653.34" y1="309.0" x2="653.34" y2="349.6" stroke="#00bbff"/><line x1="657.05" y1="277.8" x2="657.05" y2="338.3" stroke="#00bbff"/><line x1="660.77" y1="292.3" x2="660.77" y2="328.4" stroke="#00bbff"/><line x1="664.48" y1="273.0" x2="664.48" y2="307.8" stroke="#00bbff"/><line x1="668.20" y1="263.3" x2="668.20" y2="292.3" stroke="#ff0000"/><line x1="671.91" y1="272.2" x2="671.91" y2="292.3" stroke="#00bbff"/><line x1="675.63" y1="271.9" x2="675.63" y2="288.3" stroke="#00bbff"/><line x1="679.34" y1="256.1" x2="679.34" y2="285.9" stroke="#ff0000"/><line x1="683.06" y1="251.6" x2="683.06" y2="284.3" stroke="#00bbff"/><line x1="686.78" y1="258.0" x2="686.78" y2="289.6" stroke="#ff0000"/><line x1="690.49" y1="260.1" x2="690.49" y2="297.6" stroke="#00bbff"/><line x1="694.21" y1="275.7" x2="694.21" y2="308.7" stroke="#ff0000"/><line x1="697.92" y1="297.1" x2="697.92" y2="313.7" stroke="#ff0000"/><line x1="701.64" y1="295.0" x2="701.64" y2="313.5" stroke="#00bbff"/><line x1="705.35" y1="269.3" x2="705.35" y2="302.3" stroke="#00bbff"/><line x1="709.07" y1="268.2" x2="709.07" y2="300.6" stroke="#ff0000"/><line x1="712.78" y1="261.7" x2="712.78" y2="307.1" stroke="#00bbff"/><line x1="716.50" y1="259.0" x2="716.50" y2="295.8" stroke="#ff0000"/><line x1="720.21" y1="193.2" x2="720.21" y2="288.0" stroke="#00bbff"/><line x1="723.93" y1="179.8" x2="723.93" y2="208.5" stroke="#ff0000"/><line x1="727.64" y1="200.7" x2="727.64" y2="226.2" stroke="#ff0000"/><line x1="731.36" y1="204.4" x2="731.36" y2="239.4" stroke="#ff0000"/><line x1="735.07" y1="232.3" x2="735.07" y2="247.4" stroke="#ff0000"/><line x1="738.79" y1="238.2" x2="738.79" y2="251.8" stroke="#ff0000"/><line x1="742.50" y1="238.2" x2="742.50" y2="269.0" stroke="#00bbff"/><line x1="746.22" y1="233.4" x2="746.22" y2="253.2" stroke="#00bbff"/><line x1="749.94" y1="235.0" x2="749.94" y2="268.2" stroke="#ff0000"/><line x1="753.65" y1="225.8" x2="753.65" y2="256.9" stroke="#00bbff"/><line x1="757.37" y1="233.9" x2="757.37" y2="268.2" stroke="#ff0000"/><line x1="761.08" y1="235.5" x2="761.08" y2="336.5" stroke="#ff0000"/><line x1="764.80" y1="269.0" x2="764.80" y2="296.7" stroke="#00bbff"/></g>
<g><rect x="1.66" y="95.8" width="3.0" height="44.2" fill="#00bbff"/><rect x="5.38" y="95.8" width="3.0" height="36.2" fill="#ff0000"/><rect x="9.09" y="131.3" width="3.0" height="19.4" fill="#ff0000"/><rect x="12.81" y="121.0" width="3.0" height="29.7" fill="#00bbff"/><rect x="16.52" y="117.0" width="3.0" height="5.6" fill="#00bbff"/><rect x="20.24" y="117.3" width="3.0" height="10.3" fill="#ff0000"/><rect x="23.95" y="127.3" width="3.0" height="23.7" fill="#ff0000"/><rect x="27.67" y="146.4" width="3.0" height="3.6" fill="#00bbff"/><rect x="31.38" y="130.0" width="3.0" height="16.4" fill="#00bbff"/><rect x="35.10" y="129.0" width="3.0" height="8.6" fill="#ff0000"/><rect x="38.81" y="123.8" width="3.0" height="13.8" fill="#00bbff"/><rect x="42.53" y="123.6" width="3.0" height="9.0" fill="#ff0000"/><rect x="46.24" y="90.0" width="3.0" height="42.8" fill="#00bbff"/><rect x="49.96" y="90.0" width="3.0" height="20.0" fill="#ff0000"/><rect x="53.67" y="69.1" width="3.0" height="40.9" fill="#00bbff"/><rect x="57.39" y="55.1" width="3.0" height="14.7" fill="#00bbff"/><rect x="61.10" y="41.0" width="3.0" height="14.7" fill="#00bbff"/><rect x="64.82" y="40.0" width="3.0" height="1.5" fill="#00bbff"/><rect x="68.54" y="40.0" width="3.0" height="7.8" fill="#ff0000"/><rect x="72.25" y="46.9" width="3.0" height="14.7" fill="#ff0000"/><rect x="75.97" y="61.3" width="3.0" height="24.5" fill="#ff0000"/><rect x="79.68" y="82.0" width="3.0" height="3.8" fill="#00bbff"/><rect x="83.40" y="82.0" width="3.0" height="4.0" fill="#ff0000"/><rect x="87.11" y="72.6" width="3.0" height="13.2" fill="#00bbff"/><rect x="90.83" y="72.6" width="3.0" height="33.1" fill="#ff0000"/><rect x="94.54" y="105.0" width="3.0" height="17.3" fill="#ff0000"/><rect x="98.26" y="122.0" width="3.0" height="15.6" fill="#ff0000"/><rect x="101.97" y="137.6" width="3.0" height="10.6" fill="#ff0000"/><rect x="105.69" y="147.3" width="3.0" height="3.7" fill="#ff0000"/><rect x="109.40" y="150.0" width="3.0" height="64.0" fill="#ff0000"/><rect x="113.12" y="212.0" width="3.0" height="1.7" fill="#00bbff"/><rect x="116.83" y="180.0" width="3.0" height="33.7" fill="#00bbff"/><rect x="120.55" y="169.3" width="3.0" height="11.1" fill="#00bbff"/><rect x="124.26" y="175.0" width="3.0" height="2.8" fill="#ff0000"/><rect x="127.98" y="164.5" width="3.0" height="13.8" fill="#00bbff"/><rect x="131.70" y="165.0" width="3.0" height="17.7" fill="#ff0000"/><rect x="135.41" y="154.2" width="3.0" height="29.3" fill="#00bbff"/><rect x="139.13" y="154.2" width="3.0" height="23.6" fill="#ff0000"/><rect x="142.84" y="171.4" width="3.0" height="6.4" fill="#00bbff"/><rect x="146.56" y="171.4" width="3.0" height="5.9" fill="#ff0000"/><rect x="150.27" y="175.7" width="3.0" height="1.6" fill="#00bbff"/><rect x="153.99" y="154.2" width="3.0" height="20.4" fill="#00bbff"/><rect x="157.70" y="144.8" width="3.0" height="11.0" fill="#00bbff"/><rect x="161.42" y="145.0" width="3.0" height="35.6" fill="#ff0000"/><rect x="165.13" y="178.6" width="3.0" height="27.7" fill="#ff0000"/><rect x="168.85" y="207.3" width="3.0" height="7.1" fill="#ff0000"/><rect x="172.56" y="201.2" width="3.0" height="12.0" fill="#00bbff"/><rect x="176.28" y="192.3" width="3.0" height="9.7" fill="#00bbff"/><rect x="179.99" y="82.9" width="3.0" height="110.5" fill="#00bbff"/><rect x="183.71" y="82.9" width="3.0" height="36.3" fill="#ff0000"/><rect x="187.43" y="119.2" width="3.0" height="43.0" fill="#ff0000"/><rect x="191.14" y="161.7" width="3.0" height="16.1" fill="#ff0000"/><rect x="194.96" y="177.3" width="2.8" height="1.0" fill="#00ff00"/><rect x="198.57" y="177.3" width="3.0" height="43.3" fill="#ff0000"/><rect x="202.29" y="219.7" width="3.0" height="1.0" fill="#00bbff"/><rect x="206.00" y="220.0" width="3.0" height="6.2" fill="#ff0000"/><rect x="209.72" y="210.0" width="3.0" height="4.8" fill="#00bbff"/><rect x="213.43" y="198.8" width="3.0" height="12.0" fill="#00bbff"/><rect x="217.15" y="199.2" width="3.0" height="74.3" fill="#ff0000"/><rect x="220.86" y="273.2" width="3.0" height="21.6" fill="#ff0000"/><rect x="224.58" y="293.5" width="3.0" height="1.6" fill="#ff0000"/><rect x="228.29" y="292.3" width="3.0" height="2.8" fill="#00bbff"/><rect x="232.01" y="292.5" width="3.0" height="16.5" fill="#ff0000"/><rect x="235.72" y="303.0" width="3.0" height="5.8" fill="#00bbff"/><rect x="239.44" y="265.2" width="3.0" height="38.0" fill="#00bbff"/><rect x="243.15" y="265.8" width="3.0" height="13.4" fill="#ff0000"/><rect x="246.87" y="277.8" width="3.0" height="41.0" fill="#ff0000"/><rect x="250.59" y="318.0" width="3.0" height="19.8" fill="#ff0000"/><rect x="254.30" y="318.5" width="3.0" height="19.3" fill="#00bbff"/><rect x="258.02" y="308.1" width="3.0" height="10.7" fill="#00bbff"/><rect x="261.73" y="307.2" width="3.0" height="9.2" fill="#ff0000"/><rect x="265.45" y="315.9" width="3.0" height="23.8" fill="#ff0000"/><rect x="269.16" y="313.2" width="3.0" height="26.5" fill="#00bbff"/><rect x="272.88" y="312.2" width="3.0" height="37.2" fill="#ff0000"/><rect x="276.59" y="343.0" width="3.0" height="6.4" fill="#00bbff"/><rect x="280.31" y="341.7" width="3.0" height="25.7" fill="#ff0000"/><rect x="284.02" y="367.3" width="3.0" height="17.9" fill="#ff0000"/><rect x="287.74" y="360.3" width="3.0" height="24.9" fill="#00bbff"/><rect x="291.45" y="357.5" width="3.0" height="4.2" fill="#00bbff"/><rect x="295.17" y="345.8" width="3.0" height="12.0" fill="#00bbff"/><rect x="298.88" y="339.7" width="3.0" height="1.6" fill="#ff0000"/><rect x="302.60" y="322.0" width="3.0" height="19.7" fill="#00bbff"/><rect x="306.31" y="270.1" width="3.0" height="53.5" fill="#00bbff"/><rect x="310.03" y="270.4" width="3.0" height="9.3" fill="#ff0000"/><rect x="313.75" y="254.3" width="3.0" height="26.2" fill="#00bbff"/><rect x="317.46" y="244.0" width="3.0" height="10.8" fill="#00bbff"/><rect x="321.18" y="244.0" width="3.0" height="23.7" fill="#ff0000"/><rect x="324.89" y="267.2" width="3.0" height="1.0" fill="#00bbff"/><rect x="328.61" y="266.5" width="3.0" height="6.0" fill="#ff0000"/><rect x="332.32" y="272.0" width="3.0" height="27.5" fill="#ff0000"/><rect x="336.04" y="300.0" width="3.0" height="14.8" fill="#ff0000"/><rect x="339.75" y="311.3" width="3.0" height="4.0" fill="#00bbff"/><rect x="343.47" y="302.3" width="3.0" height="10.5" fill="#00bbff"/><rect x="347.18" y="301.8" width="3.0" height="14.3" fill="#ff0000"/><rect x="350.90" y="300.1" width="3.0" height="16.0" fill="#00bbff"/><rect x="354.61" y="300.0" width="3.0" height="7.2" fill="#ff0000"/><rect x="358.33" y="275.0" width="3.0" height="31.8" fill="#00bbff"/><rect x="362.04" y="275.1" width="3.0" height="33.7" fill="#ff0000"/><rect x="365.76" y="293.5" width="3.0" height="15.0" fill="#00bbff"/><rect x="369.47" y="294.4" width="3.0" height="1.9" fill="#ff0000"/><rect x="373.19" y="295.2" width="3.0" height="47.0" fill="#ff0000"/><rect x="376.91" y="341.5" width="3.0" height="58.2" fill="#ff0000"/><rect x="380.62" y="378.8" width="3.0" height="20.9" fill="#00bbff"/><rect x="384.34" y="357.1" width="3.0" height="22.5" fill="#00bbff"/><rect x="388.05" y="353.9" width="3.0" height="12.6" fill="#ff0000"/><rect x="391.77" y="366.0" width="3.0" height="9.6" fill="#ff0000"/><rect x="395.48" y="375.0" width="3.0" height="21.8" fill="#ff0000"/><rect x="399.20" y="369.8" width="3.0" height="27.0" fill="#00bbff"/><rect x="402.91" y="314.0" width="3.0" height="56.0" fill="#00bbff"/><rect x="406.63" y="314.0" width="3.0" height="4.0" fill="#ff0000"/><rect x="410.34" y="266.7" width="3.0" height="51.0" fill="#00bbff"/><rect x="414.06" y="266.7" width="3.0" height="2.3" fill="#ff0000"/><rect x="417.77" y="268.3" width="3.0" height="8.4" fill="#ff0000"/><rect x="421.49" y="275.9" width="3.0" height="12.9" fill="#ff0000"/><rect x="425.20" y="273.1" width="3.0" height="15.7" fill="#00bbff"/><rect x="428.92" y="273.1" width="3.0" height="21.6" fill="#ff0000"/><rect x="432.63" y="294.1" width="3.0" height="20.4" fill="#ff0000"/><rect x="436.35" y="292.0" width="3.0" height="22.5" fill="#00bbff"/><rect x="440.07" y="291.2" width="3.0" height="1.6" fill="#00bbff"/><rect x="443.78" y="284.7" width="3.0" height="7.3" fill="#00bbff"/><rect x="447.50" y="284.7" width="3.0" height="31.9" fill="#ff0000"/><rect x="451.21" y="300.0" width="3.0" height="16.5" fill="#00bbff"/><rect x="454.93" y="276.0" width="3.0" height="24.5" fill="#00bbff"/><rect x="458.64" y="276.0" width="3.0" height="11.6" fill="#ff0000"/><rect x="462.36" y="286.7" width="3.0" height="31.1" fill="#ff0000"/><rect x="466.07" y="205.8" width="3.0" height="112.2" fill="#00bbff"/><rect x="469.79" y="199.7" width="3.0" height="7.2" fill="#00bbff"/><rect x="473.50" y="160.7" width="3.0" height="40.2" fill="#00bbff"/><rect x="477.22" y="148.6" width="3.0" height="16.1" fill="#00bbff"/><rect x="480.93" y="148.6" width="3.0" height="1.6" fill="#00bbff"/><rect x="484.65" y="148.3" width="3.0" height="23.2" fill="#ff0000"/><rect x="488.36" y="166.0" width="3.0" height="6.0" fill="#00bbff"/><rect x="492.08" y="162.3" width="3.0" height="4.0" fill="#00bbff"/><rect x="495.79" y="125.8" width="3.0" height="37.0" fill="#00bbff"/><rect x="499.51" y="125.8" width="3.0" height="23.6" fill="#ff0000"/><rect x="503.23" y="148.6" width="3.0" height="54.0" fill="#ff0000"/><rect x="506.94" y="184.0" width="3.0" height="19.2" fill="#00bbff"/><rect x="510.66" y="175.2" width="3.0" height="9.2" fill="#00bbff"/><rect x="514.47" y="175.6" width="2.8" height="1.0" fill="#00ff00"/><rect x="518.09" y="159.9" width="3.0" height="16.4" fill="#00bbff"/><rect x="521.80" y="159.9" width="3.0" height="12.1" fill="#ff0000"/><rect x="525.52" y="161.8" width="3.0" height="10.2" fill="#00bbff"/><rect x="529.23" y="162.3" width="3.0" height="19.3" fill="#ff0000"/><rect x="532.95" y="181.1" width="3.0" height="18.9" fill="#ff0000"/><rect x="536.66" y="199.7" width="3.0" height="50.3" fill="#ff0000"/><rect x="540.38" y="247.2" width="3.0" height="2.6" fill="#00bbff"/><rect x="544.09" y="248.0" width="3.0" height="11.8" fill="#ff0000"/><rect x="547.81" y="241.7" width="3.0" height="18.1" fill="#00bbff"/><rect x="551.52" y="206.9" width="3.0" height="35.7" fill="#00bbff"/><rect x="555.24" y="208.0" width="3.0" height="30.0" fill="#ff0000"/><rect x="558.95" y="217.0" width="3.0" height="20.0" fill="#00bbff"/><rect x="562.67" y="208.0" width="3.0" height="9.7" fill="#00bbff"/><rect x="566.39" y="213.8" width="3.0" height="8.1" fill="#ff0000"/><rect x="570.10" y="220.9" width="3.0" height="2.9" fill="#ff0000"/><rect x="573.82" y="223.0" width="3.0" height="1.0" fill="#00bbff"/><rect x="577.53" y="219.8" width="3.0" height="4.0" fill="#00bbff"/><rect x="581.25" y="219.8" width="3.0" height="14.0" fill="#ff0000"/><rect x="584.96" y="233.1" width="3.0" height="38.9" fill="#ff0000"/><rect x="588.68" y="265.3" width="3.0" height="6.7" fill="#00bbff"/><rect x="592.39" y="261.6" width="3.0" height="6.5" fill="#00bbff"/><rect x="596.11" y="262.0" width="3.0" height="21.8" fill="#ff0000"/><rect x="599.82" y="283.5" width="3.0" height="22.5" fill="#ff0000"/><rect x="603.54" y="305.9" width="3.0" height="37.2" fill="#ff0000"/><rect x="607.25" y="318.6" width="3.0" height="25.3" fill="#00bbff"/><rect x="610.97" y="312.1" width="3.0" height="7.1" fill="#00bbff"/><rect x="614.68" y="300.8" width="3.0" height="11.8" fill="#00bbff"/><rect x="618.40" y="300.8" width="3.0" height="8.7" fill="#ff0000"/><rect x="622.12" y="309.2" width="3.0" height="27.2" fill="#ff0000"/><rect x="625.83" y="326.2" width="3.0" height="10.2" fill="#00bbff"/><rect x="629.55" y="317.8" width="3.0" height="8.4" fill="#00bbff"/><rect x="633.26" y="317.8" width="3.0" height="18.1" fill="#ff0000"/><rect x="636.98" y="325.2" width="3.0" height="10.7" fill="#00bbff"/><rect x="640.69" y="325.2" width="3.0" height="9.1" fill="#ff0000"/><rect x="644.41" y="328.8" width="3.0" height="5.5" fill="#00bbff"/><rect x="648.12" y="290.7" width="3.0" height="38.7" fill="#00bbff"/><rect x="651.84" y="323.0" width="3.0" height="23.7" fill="#00bbff"/><rect x="655.55" y="306.0" width="3.0" height="17.6" fill="#00bbff"/><rect x="659.27" y="300.8" width="3.0" height="6.0" fill="#00bbff"/><rect x="662.98" y="277.0" width="3.0" height="24.4" fill="#00bbff"/><rect x="666.70" y="277.0" width="3.0" height="12.1" fill="#ff0000"/><rect x="670.41" y="282.2" width="3.0" height="6.9" fill="#00bbff"/><rect x="674.13" y="281.2" width="3.0" height="1.5" fill="#00bbff"/><rect x="677.84" y="280.2" width="3.0" height="2.0" fill="#ff0000"/><rect x="681.56" y="260.1" width="3.0" height="21.8" fill="#00bbff"/><rect x="685.28" y="260.1" width="3.0" height="24.6" fill="#ff0000"/><rect x="688.99" y="282.2" width="3.0" height="2.1" fill="#00bbff"/><rect x="692.71" y="282.2" width="3.0" height="19.3" fill="#ff0000"/><rect x="696.42" y="300.8" width="3.0" height="5.2" fill="#ff0000"/><rect x="700.14" y="297.0" width="3.0" height="9.0" fill="#00bbff"/><rect x="703.85" y="270.6" width="3.0" height="26.8" fill="#00bbff"/><rect x="707.57" y="269.8" width="3.0" height="23.9" fill="#ff0000"/><rect x="711.28" y="263.8" width="3.0" height="29.9" fill="#00bbff"/><rect x="715.00" y="263.8" width="3.0" height="20.0" fill="#ff0000"/><rect x="718.71" y="195.6" width="3.0" height="88.7" fill="#00bbff"/><rect x="722.43" y="195.9" width="3.0" height="7.7" fill="#ff0000"/><rect x="726.14" y="202.8" width="3.0" height="12.1" fill="#ff0000"/><rect x="729.86" y="214.1" width="3.0" height="24.1" fill="#ff0000"/><rect x="733.57" y="237.1" width="3.0" height="5.2" fill="#ff0000"/><rect x="737.29" y="241.3" width="3.0" height="7.5" fill="#ff0000"/><rect x="741.00" y="247.1" width="3.0" height="5.9" fill="#00bbff"/><rect x="744.72" y="237.1" width="3.0" height="10.2" fill="#00bbff"/><rect x="748.44" y="237.1" width="3.0" height="9.5" fill="#ff0000"/><rect x="752.15" y="235.8" width="3.0" height="11.5" fill="#00bbff"/><rect x="755.87" y="235.5" width="3.0" height="27.0" fill="#ff0000"/><rect x="759.58" y="262.5" width="3.0" height="29.3" fill="#ff0000"/><rect x="763.30" y="284.3" width="3.0" height="7.5" fill="#00bbff"/></g>
<line x1="277.7" y1="389.3" x2="418.5" y2="431.1" stroke="#111" stroke-width="0.95"/>
<line x1="277.5" y1="508.4" x2="411" y2="491.4" stroke="#111" stroke-width="0.95"/>
<rect x="2" y="434.2" width="959.5" height="3.6" fill="#777"/>
<rect x="2" y="2" width="1" height="538.2" fill="#000"/>
<rect x="2" y="2" width="960" height="1" fill="#000"/>
<rect x="961" y="2" width="1" height="538.2" fill="#000"/>
<rect x="2" y="539.4" width="960" height="1.3" fill="#111"/>
<rect x="962" y="31.5" width="1.8" height="1" fill="#000"/>

<rect x="962" y="62.3" width="1.8" height="1" fill="#000"/>

<rect x="962" y="93.1" width="1.8" height="1" fill="#000"/>

<rect x="962" y="123.8" width="1.8" height="1" fill="#000"/>

<rect x="962" y="154.6" width="1.8" height="1" fill="#000"/>

<rect x="962" y="185.4" width="1.8" height="1" fill="#000"/>

<rect x="962" y="216.2" width="1.8" height="1" fill="#000"/>

<rect x="962" y="247.0" width="1.8" height="1" fill="#000"/>

<rect x="962" y="277.7" width="1.8" height="1" fill="#000"/>

<rect x="962" y="308.5" width="1.8" height="1" fill="#000"/>

<rect x="962" y="339.3" width="1.8" height="1" fill="#000"/>

<rect x="962" y="370.1" width="1.8" height="1" fill="#000"/>

<rect x="962" y="400.9" width="1.8" height="1" fill="#000"/>

<rect x="962" y="431.6" width="1.8" height="1" fill="#000"/>

<rect x="962" y="437.6" width="1.8" height="1" fill="#000"/>

<rect x="962" y="474.3" width="1.8" height="1" fill="#000"/>


<rect x="963.9" y="16.9" width="35.3" height="10" fill="#ff0000"/>

<rect x="963.9" y="111.9" width="35.3" height="10" fill="#ff0000"/>

<rect x="963.9" y="174.1" width="35.3" height="10" fill="#ff0000"/>

<rect x="963.9" y="346.8" width="35.3" height="10" fill="#ff0000"/>

<rect x="963.9" y="417.5" width="35.3" height="10" fill="#ff0000"/>

<rect x="963.9" y="279.0" width="35.3" height="10" fill="#000"/>

<path d="M5.6 8.6 L12.4 8.6 L9 12.2 Z" fill="#000"/>



<rect x="2.7" y="540" width="1" height="2.4" fill="#000"/>

<rect x="62.1" y="540" width="1" height="2.4" fill="#000"/>

<rect x="121.6" y="540" width="1" height="2.4" fill="#000"/>

<rect x="181.0" y="540" width="1" height="2.4" fill="#000"/>

<rect x="240.5" y="540" width="1" height="2.4" fill="#000"/>

<rect x="299.9" y="540" width="1" height="2.4" fill="#000"/>

<rect x="359.3" y="540" width="1" height="2.4" fill="#000"/>

<rect x="418.8" y="540" width="1" height="2.4" fill="#000"/>

<rect x="478.2" y="540" width="1" height="2.4" fill="#000"/>

<rect x="537.7" y="540" width="1" height="2.4" fill="#000"/>

<rect x="597.1" y="540" width="1" height="2.4" fill="#000"/>

<rect x="656.5" y="540" width="1" height="2.4" fill="#000"/>

<rect x="716.0" y="540" width="1" height="2.4" fill="#000"/>

<defs><filter id="tf" x="0" y="0" width="1000" height="559" filterUnits="userSpaceOnUse"><feColorMatrix type="saturate" values="1"/></filter></defs>
<g filter="url(#tf)"><text x="967.6" y="35.1" font-size="8.7" fill="#1a1a1a" font-weight="normal" textLength="28.6" lengthAdjust="spacingAndGlyphs">111.840</text><text x="967.6" y="65.9" font-size="8.7" fill="#1a1a1a" font-weight="normal" textLength="28.6" lengthAdjust="spacingAndGlyphs">111.710</text><text x="967.6" y="96.7" font-size="8.7" fill="#1a1a1a" font-weight="normal" textLength="28.6" lengthAdjust="spacingAndGlyphs">111.580</text><text x="967.6" y="127.4" font-size="8.7" fill="#1a1a1a" font-weight="normal" textLength="28.6" lengthAdjust="spacingAndGlyphs">111.450</text><text x="967.6" y="158.2" font-size="8.7" fill="#1a1a1a" font-weight="normal" textLength="28.6" lengthAdjust="spacingAndGlyphs">111.320</text><text x="967.6" y="189.0" font-size="8.7" fill="#1a1a1a" font-weight="normal" textLength="28.6" lengthAdjust="spacingAndGlyphs">111.190</text><text x="967.6" y="219.8" font-size="8.7" fill="#1a1a1a" font-weight="normal" textLength="28.6" lengthAdjust="spacingAndGlyphs">111.060</text><text x="967.6" y="250.6" font-size="8.7" fill="#1a1a1a" font-weight="normal" textLength="28.6" lengthAdjust="spacingAndGlyphs">110.930</text><text x="967.6" y="281.3" font-size="8.7" fill="#1a1a1a" font-weight="normal" textLength="28.6" lengthAdjust="spacingAndGlyphs">110.800</text><text x="967.6" y="312.1" font-size="8.7" fill="#1a1a1a" font-weight="normal" textLength="28.6" lengthAdjust="spacingAndGlyphs">110.670</text><text x="967.6" y="342.9" font-size="8.7" fill="#1a1a1a" font-weight="normal" textLength="28.6" lengthAdjust="spacingAndGlyphs">110.540</text><text x="967.6" y="373.7" font-size="8.7" fill="#1a1a1a" font-weight="normal" textLength="28.6" lengthAdjust="spacingAndGlyphs">110.410</text><text x="967.6" y="404.5" font-size="8.7" fill="#1a1a1a" font-weight="normal" textLength="28.6" lengthAdjust="spacingAndGlyphs">110.280</text><text x="967.6" y="435.2" font-size="8.7" fill="#1a1a1a" font-weight="normal" textLength="28.6" lengthAdjust="spacingAndGlyphs">110.150</text><text x="964.7" y="446.6" font-size="8.7" fill="#1a1a1a" font-weight="normal" textLength="24.3" lengthAdjust="spacingAndGlyphs">0.2097</text><text x="965" y="478" font-size="8.7" fill="#1a1a1a" font-weight="normal" textLength="13.7" lengthAdjust="spacingAndGlyphs">0.00</text><text x="965" y="536.3" font-size="8.7" fill="#1a1a1a" font-weight="normal" textLength="27" lengthAdjust="spacingAndGlyphs">-0.3649</text><text x="967.6" y="25.3" font-size="8.7" fill="#fff" font-weight="normal" textLength="28.6" lengthAdjust="spacingAndGlyphs">111.880</text><text x="967.6" y="120.3" font-size="8.7" fill="#fff" font-weight="normal" textLength="28.6" lengthAdjust="spacingAndGlyphs">111.481</text><text x="967.6" y="182.5" font-size="8.7" fill="#fff" font-weight="normal" textLength="28.6" lengthAdjust="spacingAndGlyphs">111.216</text><text x="967.6" y="355.2" font-size="8.7" fill="#fff" font-weight="normal" textLength="28.6" lengthAdjust="spacingAndGlyphs">110.486</text><text x="967.6" y="425.9" font-size="8.7" fill="#fff" font-weight="normal" textLength="28.6" lengthAdjust="spacingAndGlyphs">110.189</text><text x="967.6" y="287.5" font-size="8.7" fill="#fff" font-weight="normal" textLength="28.6" lengthAdjust="spacingAndGlyphs">110.774</text><text x="17.2" y="13" font-size="9" fill="#555" font-weight="normal" textLength="41" lengthAdjust="spacingAndGlyphs">USDJPY,H1</text><text x="64.5" y="13" font-size="9" fill="#555" font-weight="normal" textLength="124.3" lengthAdjust="spacingAndGlyphs">110.744 110.837 110.721 110.774</text><text x="6.8" y="448.8" font-size="9" fill="#555" font-weight="normal" textLength="111.2" lengthAdjust="spacingAndGlyphs">MACD(12,26,9) 0.0147 0.0490</text><text x="2.5" y="553" font-size="10" fill="#222" font-weight="normal" textLength="40.6" lengthAdjust="spacingAndGlyphs">10 Jan 2018</text><text x="61.9" y="553" font-size="10" fill="#222" font-weight="normal" textLength="43.6" lengthAdjust="spacingAndGlyphs">11 Jan 07:00</text><text x="121.4" y="553" font-size="10" fill="#222" font-weight="normal" textLength="43.6" lengthAdjust="spacingAndGlyphs">11 Jan 23:00</text><text x="180.8" y="553" font-size="10" fill="#222" font-weight="normal" textLength="43.6" lengthAdjust="spacingAndGlyphs">12 Jan 15:00</text><text x="240.3" y="553" font-size="10" fill="#222" font-weight="normal" textLength="43.6" lengthAdjust="spacingAndGlyphs">15 Jan 08:00</text><text x="299.7" y="553" font-size="10" fill="#222" font-weight="normal" textLength="43.6" lengthAdjust="spacingAndGlyphs">16 Jan 00:00</text><text x="359.1" y="553" font-size="10" fill="#222" font-weight="normal" textLength="43.6" lengthAdjust="spacingAndGlyphs">16 Jan 16:00</text><text x="418.6" y="553" font-size="10" fill="#222" font-weight="normal" textLength="43.6" lengthAdjust="spacingAndGlyphs">17 Jan 08:00</text><text x="478.0" y="553" font-size="10" fill="#222" font-weight="normal" textLength="43.6" lengthAdjust="spacingAndGlyphs">18 Jan 00:00</text><text x="537.5" y="553" font-size="10" fill="#222" font-weight="normal" textLength="43.6" lengthAdjust="spacingAndGlyphs">18 Jan 16:00</text><text x="596.9" y="553" font-size="10" fill="#222" font-weight="normal" textLength="43.6" lengthAdjust="spacingAndGlyphs">19 Jan 08:00</text><text x="656.3" y="553" font-size="10" fill="#222" font-weight="normal" textLength="43.6" lengthAdjust="spacingAndGlyphs">22 Jan 01:00</text><text x="715.8" y="553" font-size="10" fill="#222" font-weight="normal" textLength="43.6" lengthAdjust="spacingAndGlyphs">22 Jan 17:00</text></g>
</svg></body></html>
